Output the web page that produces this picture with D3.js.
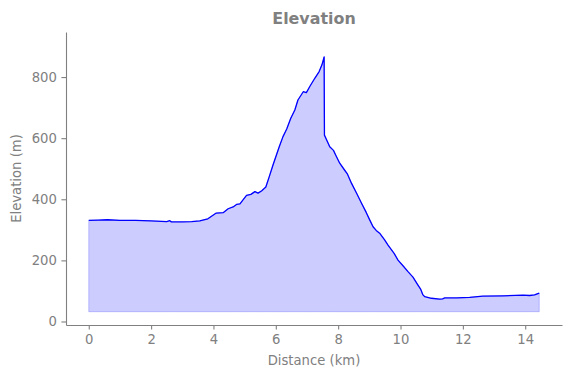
<!DOCTYPE html>
<html>
<head>
<meta charset="utf-8">
<script src="https://cdn.jsdelivr.net/npm/d3@7"></script>
<style>
  body { margin: 0; background: #fff; }
  text { font-family: "DejaVu Sans", sans-serif; }
</style>
</head>
<body>
<div id="chart"></div>
<script>
// distance along the track (km) and elevation (m)
const distance = [
  0, 0.3, 0.6, 1.0, 1.5, 2.0, 2.5, 2.6, 2.65, 3.0, 3.3, 3.56, 3.82,
  4.09, 4.31, 4.47, 4.63, 4.74, 4.85, 5.06, 5.2, 5.33, 5.43, 5.55, 5.68,
  5.79, 5.91, 6.11, 6.23, 6.35, 6.48, 6.61, 6.71, 6.88, 6.98, 7.09, 7.25,
  7.39, 7.48, 7.55, 7.56, 7.65, 7.73, 7.85, 7.92, 8.05, 8.21, 8.3, 8.43,
  8.6, 8.75, 8.9, 9.0, 9.12, 9.22, 9.33, 9.49, 9.6, 9.8, 9.92, 10.1,
  10.24, 10.4, 10.56, 10.65, 10.72, 10.78, 10.99, 11.26, 11.35, 11.42,
  11.8, 12.22, 12.64, 13.29, 13.93, 14.14, 14.3, 14.45
];
const elevation = [
  331, 332, 333, 331, 331, 329, 327, 330, 326, 326, 327, 329, 336,
  355, 356, 369, 375, 383, 385, 413, 416, 425, 420, 428, 440,
  474, 512, 572, 605, 630, 665, 692, 725, 752, 749, 769, 796,
  818, 840, 866, 610, 590, 572, 560, 545, 518, 495, 482, 452,
  418, 387, 357, 335, 310, 298, 289, 267, 250, 222, 201, 180,
  163, 145, 119, 105, 87, 81, 76, 73, 74, 77,
  77, 79, 83, 84, 86, 85, 87, 93
];
const fillBase = 32;

const xTicks = [0, 2, 4, 6, 8, 10, 12, 14];
const yTicks = [0, 200, 400, 600, 800];

const points = distance.map((d, i) => ({ x: d, y: elevation[i] }));

const width = 571, height = 378;
const margin = { top: 32, right: 9, bottom: 53, left: 66 };
const innerW = width - margin.left - margin.right;
const innerH = height - margin.top - margin.bottom;

const svg = d3.select("#chart").append("svg")
  .attr("width", width)
  .attr("height", height);

const g = svg.append("g")
  .attr("transform", "translate(" + margin.left + "," + margin.top + ")");

const xScale = d3.scaleLinear()
  .domain([-0.73, 15.18])
  .range([0, innerW]);

const yScale = d3.scaleLinear()
  .domain([-11.5, 947.5])
  .range([innerH, 0]);

// shaded area down to a flat base
const area = d3.area()
  .x(d => xScale(d.x))
  .y0(yScale(fillBase))
  .y1(d => yScale(d.y));

g.append("path")
  .datum(points)
  .attr("d", area)
  .attr("fill", "blue")
  .attr("fill-opacity", 0.2)
  .attr("stroke", "blue")
  .attr("stroke-opacity", 0.2)
  .attr("stroke-width", 1);

const line = d3.line()
  .x(d => xScale(d.x))
  .y(d => yScale(d.y));

g.append("path")
  .datum(points)
  .attr("d", line)
  .attr("fill", "none")
  .attr("stroke", "blue")
  .attr("stroke-width", 1.3)
  .attr("stroke-linejoin", "round");

// axes
const axisColor = "#808080";

const xAxis = g.append("g")
  .attr("transform", "translate(0," + innerH + ")")
  .call(d3.axisBottom(xScale).tickValues(xTicks).tickSize(4.6).tickSizeOuter(0).tickPadding(4.6));

const yAxis = g.append("g")
  .call(d3.axisLeft(yScale).tickValues(yTicks).tickSize(4.6).tickSizeOuter(0).tickPadding(4.6));

[xAxis, yAxis].forEach(a => {
  a.select(".domain").attr("stroke", axisColor).attr("stroke-width", 1.1);
  a.selectAll(".tick line").attr("stroke", axisColor).attr("stroke-width", 1.1);
  a.selectAll(".tick text")
    .attr("fill", axisColor)
    .style("font-size", "13.2px")
    .style("font-family", "DejaVu Sans, sans-serif");
});

// labels
svg.append("text")
  .attr("x", margin.left + innerW / 2)
  .attr("y", 365)
  .attr("text-anchor", "middle")
  .attr("fill", axisColor)
  .style("font-size", "13.2px")
  .text("Distance (km)");

svg.append("text")
  .attr("transform", "translate(21," + (margin.top + innerH / 2) + ") rotate(-90)")
  .attr("text-anchor", "middle")
  .attr("fill", axisColor)
  .style("font-size", "13.2px")
  .text("Elevation (m)");

svg.append("text")
  .attr("x", margin.left + innerW / 2)
  .attr("y", 24)
  .attr("text-anchor", "middle")
  .attr("fill", axisColor)
  .style("font-size", "15.9px")
  .style("font-weight", "bold")
  .text("Elevation");
</script>
</body>
</html>
